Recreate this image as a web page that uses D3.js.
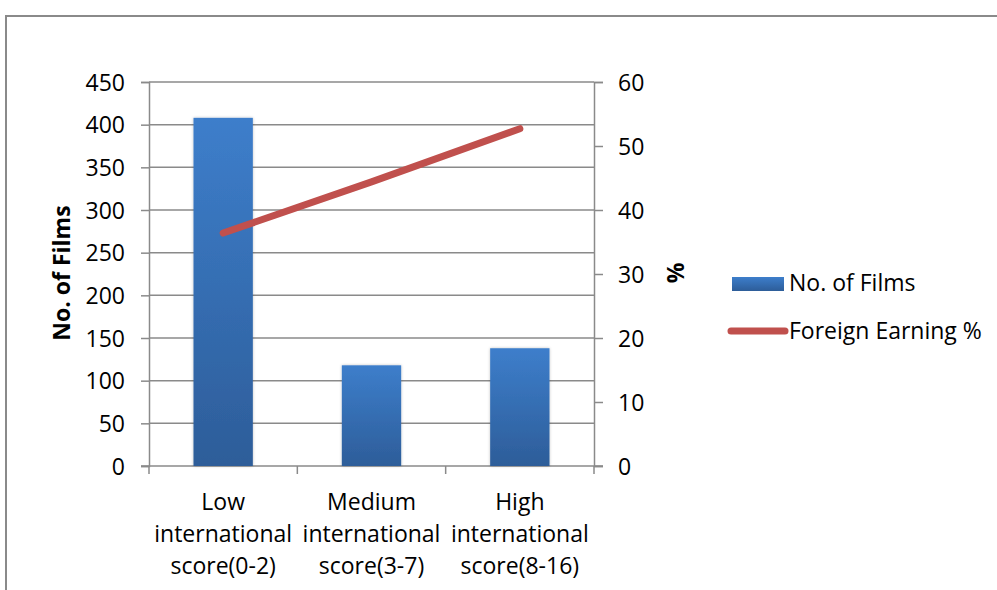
<!DOCTYPE html>
<html>
<head>
<meta charset="utf-8">
<script src="https://cdn.jsdelivr.net/npm/d3@7"></script>
<style>
  html, body { margin: 0; padding: 0; background: #fff; }
  svg { display: block; }
  text { font-family: "Open Sans", Lato, sans-serif; fill: #000; }
</style>
</head>
<body>
<svg id="chart" width="997" height="590"></svg>
<script>
// Categories and series
const categories = [
  ["Low", "international", "score(0-2)"],
  ["Medium", "international", "score(3-7)"],
  ["High", "international", "score(8-16)"]
];
const films = [408, 118, 138];
const foreignPct = [36.4, 44.4, 52.7];
const leftTicks = [0, 50, 100, 150, 200, 250, 300, 350, 400, 450];
const rightTicks = [0, 10, 20, 30, 40, 50, 60];
const seriesNames = ["No. of Films", "Foreign Earning %"];

const svg = d3.select("#chart");
const W = 997, H = 590;
const plot = { left: 149, right: 594, top: 82, bottom: 466 };
const FS = "23px";

// Frame around the chart
svg.append("path")
  .attr("d", `M6,${H} L6,16 L${W},16`)
  .attr("fill", "none")
  .attr("stroke", "#8a8a8a")
  .attr("stroke-width", 2);

const x = d3.scaleBand().domain(d3.range(categories.length))
  .range([plot.left, plot.right]).paddingInner(0.6).paddingOuter(0.3);
const xBand = d3.scaleBand().domain(d3.range(categories.length))
  .range([plot.left, plot.right]);
const yL = d3.scaleLinear().domain([0, 450]).range([plot.bottom, plot.top]);
const yR = d3.scaleLinear().domain([0, 60]).range([plot.bottom, plot.top]);

const defs = svg.append("defs");
const grad = defs.append("linearGradient").attr("id", "barGrad")
  .attr("x1", 0).attr("y1", 0).attr("x2", 0).attr("y2", 1);
grad.append("stop").attr("offset", "0%").attr("stop-color", "#3d7ecb");
grad.append("stop").attr("offset", "100%").attr("stop-color", "#2d5d99");
const shadow = defs.append("filter").attr("id", "barShadow")
  .attr("x", "-20%").attr("y", "-5%").attr("width", "140%").attr("height", "110%");
shadow.append("feGaussianBlur").attr("in", "SourceAlpha").attr("stdDeviation", 1.5);
shadow.append("feOffset").attr("dx", 0).attr("dy", 0).attr("result", "b");
shadow.append("feComponentTransfer").append("feFuncA").attr("type", "linear").attr("slope", 0.25);
const merge = shadow.append("feMerge");
merge.append("feMergeNode");
merge.append("feMergeNode").attr("in", "SourceGraphic");

// Gridlines at left-axis ticks
svg.append("g").selectAll("line").data(leftTicks.filter(d => d > 0)).join("line")
  .attr("x1", plot.left).attr("x2", plot.right)
  .attr("y1", d => yL(d)).attr("y2", d => yL(d))
  .attr("stroke", "#8a8a8a").attr("stroke-width", 1.5);

// Left axis
const gL = svg.append("g").attr("transform", `translate(${plot.left},0)`)
  .call(d3.axisLeft(yL).tickValues(leftTicks).tickSize(8));
gL.select(".domain").attr("stroke", "#8a8a8a").attr("stroke-width", 1.5);
gL.selectAll(".tick line").attr("stroke", "#8a8a8a").attr("stroke-width", 1.5);
gL.selectAll(".tick text").style("font-size", FS).attr("dy", "0.35em").attr("x", -24);

// Right axis
const gR = svg.append("g").attr("transform", `translate(${plot.right},0)`)
  .call(d3.axisRight(yR).tickValues(rightTicks).tickSize(9));
gR.select(".domain").attr("stroke", "#8a8a8a").attr("stroke-width", 1.5);
gR.selectAll(".tick line").attr("stroke", "#8a8a8a").attr("stroke-width", 1.5);
gR.selectAll(".tick text").style("font-size", FS).attr("dy", "0.35em").attr("x", 24);

// Bottom axis with ticks at category boundaries
const boundaries = d3.range(categories.length + 1).map(i => plot.left + i * xBand.step());
svg.append("line").attr("x1", plot.left - 8).attr("x2", plot.right + 9)
  .attr("y1", plot.bottom).attr("y2", plot.bottom)
  .attr("stroke", "#8a8a8a").attr("stroke-width", 1.5);
svg.append("g").selectAll("line").data(boundaries).join("line")
  .attr("x1", d => d).attr("x2", d => d)
  .attr("y1", plot.bottom).attr("y2", plot.bottom + 8)
  .attr("stroke", "#8a8a8a").attr("stroke-width", 1.5);

// Category labels
const lab = svg.append("g").selectAll("text").data(categories).join("text")
  .attr("text-anchor", "middle").style("font-size", FS);
lab.each(function(lines, i) {
  const t = d3.select(this);
  lines.forEach((ln, j) => {
    t.append("tspan").attr("x", xBand(i) + xBand.bandwidth() / 2)
      .attr("y", 510 + j * 32).text(ln);
  });
});

// Bars
svg.append("g").selectAll("rect").data(films).join("rect")
  .attr("x", (d, i) => x(i)).attr("width", x.bandwidth())
  .attr("y", d => yL(d)).attr("height", d => yL(0) - yL(d))
  .attr("fill", "url(#barGrad)").attr("filter", "url(#barShadow)");

// Line series
const line = d3.line()
  .x((d, i) => xBand(i) + xBand.bandwidth() / 2)
  .y(d => yR(d));
svg.append("path").datum(foreignPct)
  .attr("d", line)
  .attr("fill", "none").attr("stroke", "#c0504d")
  .attr("stroke-width", 7).attr("stroke-linecap", "round").attr("stroke-linejoin", "round");

// Axis titles
svg.append("text").attr("transform", `translate(70,273) rotate(-90)`)
  .attr("text-anchor", "middle").style("font-size", FS).style("font-weight", "bold")
  .text("No. of Films");
svg.append("text").attr("transform", `translate(684,273) rotate(-90)`)
  .attr("text-anchor", "middle").style("font-size", FS).style("font-weight", "bold")
  .text("%");

// Legend
const lg = svg.append("g");
lg.append("rect").attr("x", 732).attr("y", 277).attr("width", 52).attr("height", 14)
  .attr("fill", "url(#barGrad)");
lg.append("text").attr("x", 789).attr("y", 283).attr("dy", "0.35em")
  .style("font-size", FS).text(seriesNames[0]);
lg.append("line").attr("x1", 731).attr("x2", 785).attr("y1", 331).attr("y2", 331)
  .attr("stroke", "#c0504d").attr("stroke-width", 7).attr("stroke-linecap", "round");
lg.append("text").attr("x", 789).attr("y", 331).attr("dy", "0.35em")
  .style("font-size", FS).text(seriesNames[1]);
</script>
</body>
</html>
